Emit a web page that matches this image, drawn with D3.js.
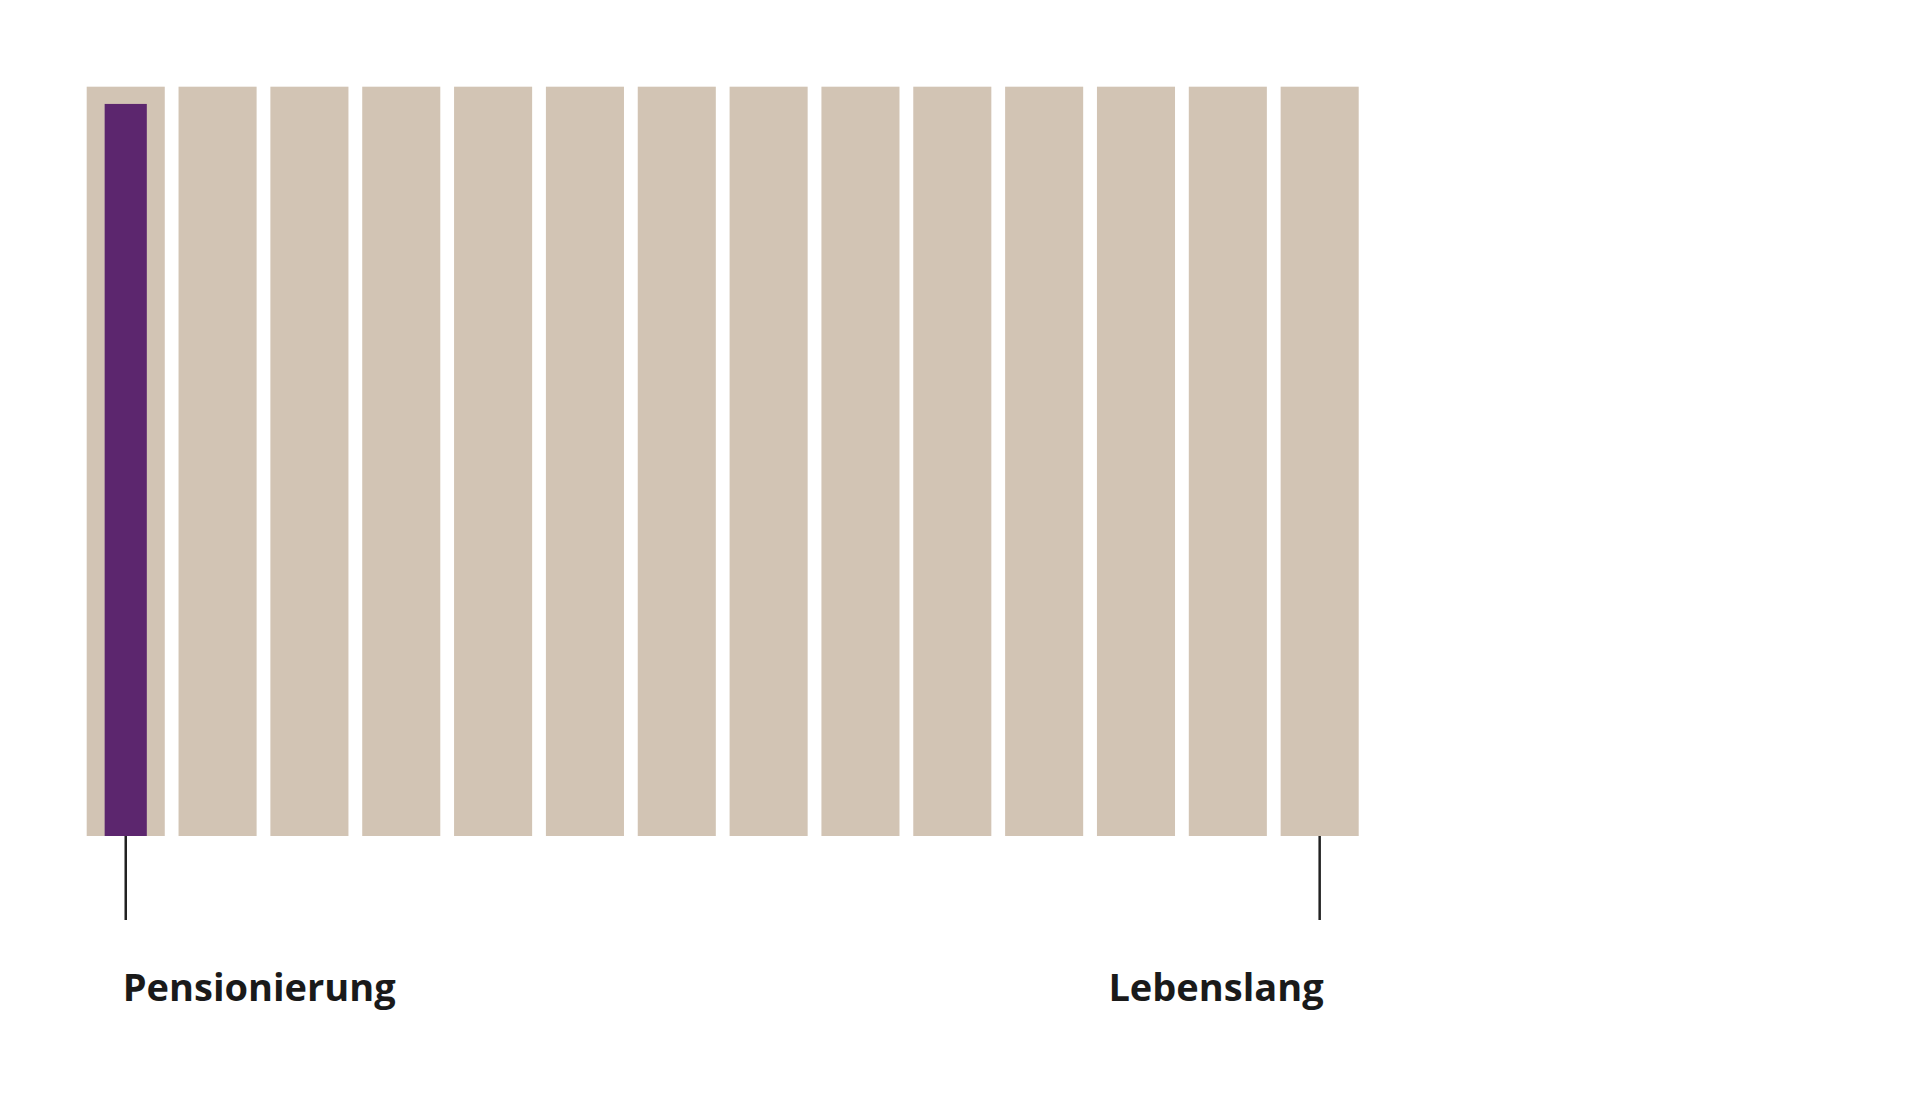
<!DOCTYPE html>
<html>
<head>
<meta charset="utf-8">
<script src="https://cdn.jsdelivr.net/npm/d3@7"></script>
<style>
  body { margin: 0; background: #fff; }
  svg { display: block; }
</style>
</head>
<body>
<div id="chart"></div>
<script>
// data
var periods = d3.range(1, 15);
var totals = [100, 100, 100, 100, 100, 100, 100, 100, 100, 100, 100, 100, 100, 100];
var highlight = [97.7, 0, 0, 0, 0, 0, 0, 0, 0, 0, 0, 0, 0, 0];
var markers = [
    { period: 1, label: 'Pensionierung', anchor: 'start' },
    { period: 14, label: 'Lebenslang', anchor: 'end' }
];

var width = 1920, height = 1102;

var svg = d3.select('#chart').append('svg')
    .attr('width', width)
    .attr('height', height);

var xScale = d3.scaleBand()
    .domain(periods)
    .range([86.7, 1358.7])
    .paddingInner(0.15)
    .paddingOuter(0);

var yScale = d3.scaleLinear()
    .domain([0, 100])
    .range([836, 86.7]);

// background bars
svg.append('g')
    .selectAll('rect')
    .data(totals)
    .join('rect')
    .attr('x', function(d, i) { return xScale(periods[i]); })
    .attr('y', function(d) { return yScale(d); })
    .attr('width', xScale.bandwidth())
    .attr('height', function(d) { return yScale(0) - yScale(d); })
    .attr('fill', '#d2c4b4');

// highlighted inner bar
var innerW = xScale.bandwidth() * 0.54;
var hl = periods.map(function(p, i) { return { p: p, v: highlight[i] }; })
    .filter(function(d) { return d.v > 0; });

svg.append('g')
    .selectAll('rect')
    .data(hl)
    .join('rect')
    .attr('x', function(d) { return xScale(d.p) + (xScale.bandwidth() - innerW) / 2; })
    .attr('y', function(d) { return yScale(d.v); })
    .attr('width', innerW)
    .attr('height', function(d) { return yScale(0) - yScale(d.v); })
    .attr('fill', '#5c266e');

// marker ticks and labels
var mk = svg.append('g')
    .selectAll('g')
    .data(markers)
    .join('g')
    .attr('transform', function(d) { return `translate(${xScale(d.period) + xScale.bandwidth() / 2},0)`; });

mk.append('line')
    .attr('x1', 0).attr('x2', 0)
    .attr('y1', yScale(0)).attr('y2', 920)
    .attr('stroke', '#222')
    .attr('stroke-width', 2.5);

mk.append('text')
    .attr('x', function(d) { return d.anchor == 'start' ? -3 : 4; })
    .attr('y', 1001)
    .attr('text-anchor', function(d) { return d.anchor; })
    .style('font-family', '"Open Sans", "Noto Sans", sans-serif')
    .style('font-weight', 'bold')
    .style('font-size', '38px')
    .style('fill', '#1a1a1a')
    .text(function(d) { return d.label; });
</script>
</body>
</html>
